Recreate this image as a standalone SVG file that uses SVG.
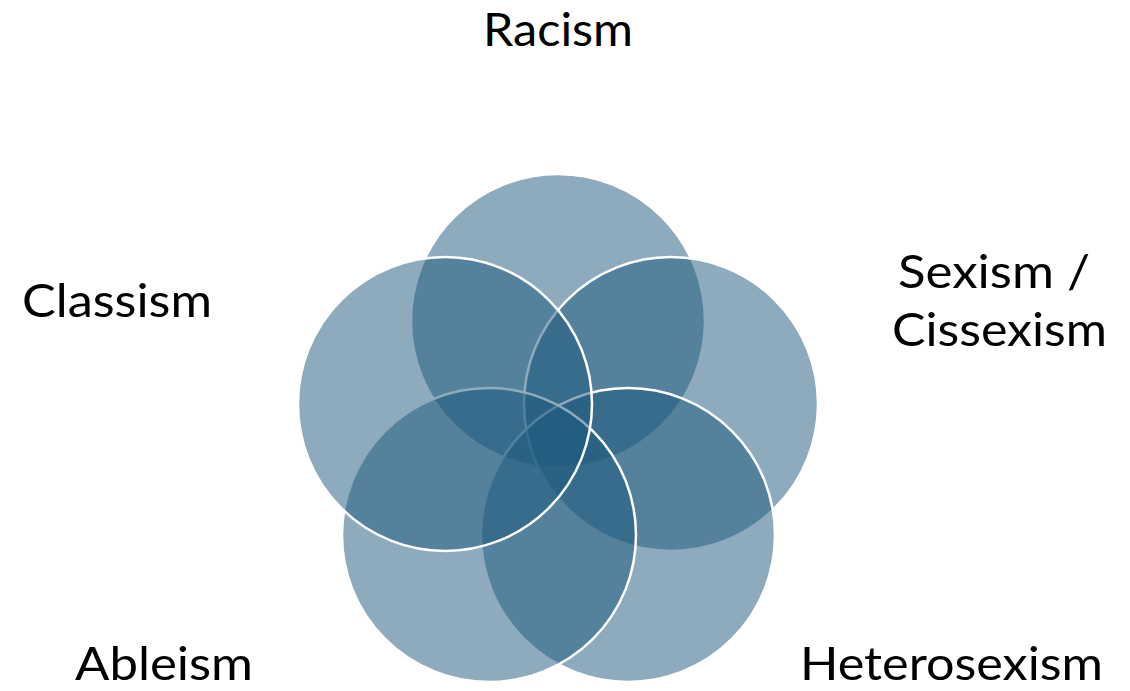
<svg xmlns="http://www.w3.org/2000/svg" width="1130" height="691" viewBox="0 0 1130 691">
<style>
.c{fill:#1B577B;fill-opacity:0.5;stroke:#FFFFFF;stroke-width:2.5}
.t{font-family:Lato,"Open Sans","Liberation Sans",sans-serif;font-size:47px;fill:#000000}
</style>
<rect width="1130" height="691" fill="#FFFFFF"/>
<g id="racism"><circle class="c" cx="558" cy="321" r="147"/></g>
<g id="sexism"><circle class="c" cx="671" cy="404" r="147"/></g>
<g id="heterosexism"><circle class="c" cx="628" cy="535" r="147"/></g>
<g id="ableism"><circle class="c" cx="489" cy="535" r="147"/></g>
<g id="classism"><circle class="c" cx="445" cy="404" r="147"/></g>
<g id="labels">
<text class="t" x="483" y="46" textLength="150" lengthAdjust="spacingAndGlyphs">Racism</text>
<text class="t" x="22" y="317" textLength="190" lengthAdjust="spacingAndGlyphs">Classism</text>
<text class="t" x="898" y="288" textLength="192" lengthAdjust="spacingAndGlyphs">Sexism /</text>
<text class="t" x="892" y="346" textLength="215" lengthAdjust="spacingAndGlyphs">Cissexism</text>
<text class="t" x="75" y="680" textLength="178" lengthAdjust="spacingAndGlyphs">Ableism</text>
<text class="t" x="800" y="680" textLength="303" lengthAdjust="spacingAndGlyphs">Heterosexism</text>
</g>
<g id="connectors"/>
</svg>
